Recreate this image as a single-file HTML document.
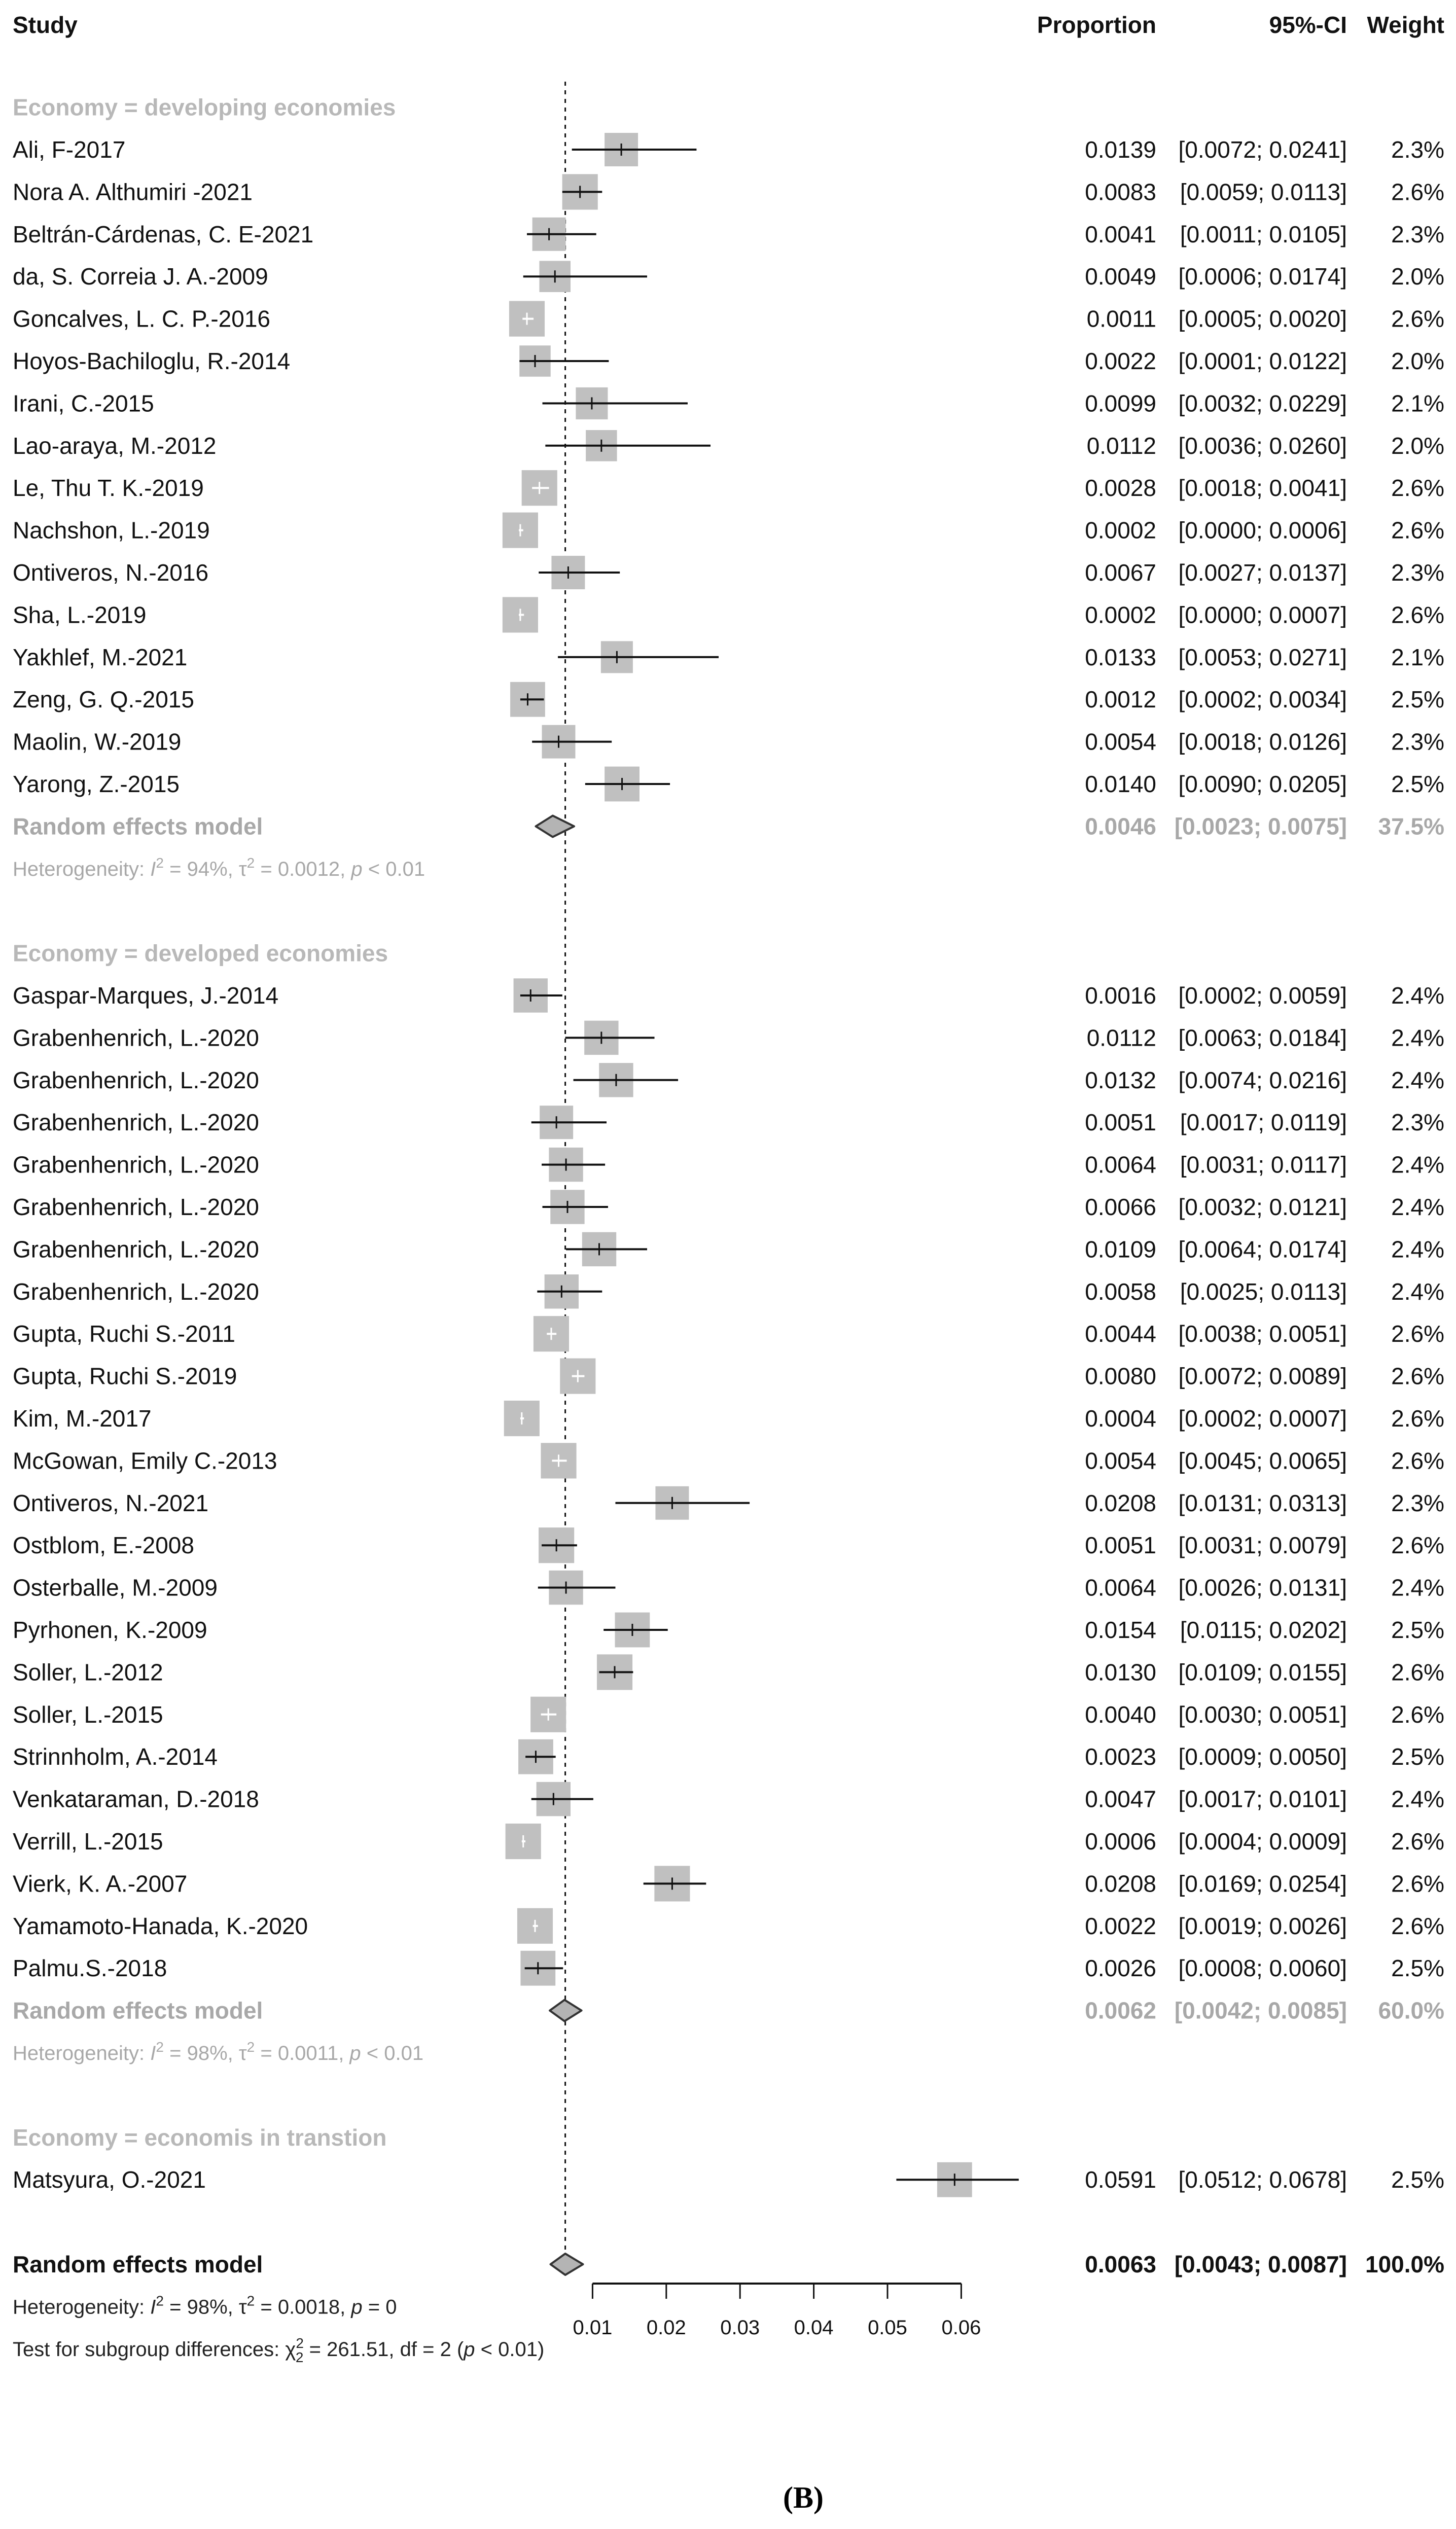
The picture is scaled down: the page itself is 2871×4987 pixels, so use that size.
<!DOCTYPE html>
<html><head><meta charset="utf-8"><style>
html,body{margin:0;padding:0;background:#fff;}
svg{display:block;}
text{font-family:"Liberation Sans",Arial,sans-serif;}
</style></head><body>
<svg id="chart" width="2871" height="4987" viewBox="0 0 2871 4987" xmlns="http://www.w3.org/2000/svg"></svg>
<script>
// ---- data ----
const studies1 = ["Ali, F-2017","Nora A. Althumiri -2021","Beltrán-Cárdenas, C. E-2021","da, S. Correia J. A.-2009","Goncalves, L. C. P.-2016","Hoyos-Bachiloglu, R.-2014","Irani, C.-2015","Lao-araya, M.-2012","Le, Thu T. K.-2019","Nachshon, L.-2019","Ontiveros, N.-2016","Sha, L.-2019","Yakhlef, M.-2021","Zeng, G. Q.-2015","Maolin, W.-2019","Yarong, Z.-2015"];
const est1 = [0.0139,0.0083,0.0041,0.0049,0.0011,0.0022,0.0099,0.0112,0.0028,0.0002,0.0067,0.0002,0.0133,0.0012,0.0054,0.0140];
const lo1 = [0.0072,0.0059,0.0011,0.0006,0.0005,0.0001,0.0032,0.0036,0.0018,0.0000,0.0027,0.0000,0.0053,0.0002,0.0018,0.0090];
const hi1 = [0.0241,0.0113,0.0105,0.0174,0.0020,0.0122,0.0229,0.0260,0.0041,0.0006,0.0137,0.0007,0.0271,0.0034,0.0126,0.0205];
const w1 = [2.3,2.6,2.3,2.0,2.6,2.0,2.1,2.0,2.6,2.6,2.3,2.6,2.1,2.5,2.3,2.5];
const studies2 = ["Gaspar-Marques, J.-2014","Grabenhenrich, L.-2020","Grabenhenrich, L.-2020","Grabenhenrich, L.-2020","Grabenhenrich, L.-2020","Grabenhenrich, L.-2020","Grabenhenrich, L.-2020","Grabenhenrich, L.-2020","Gupta, Ruchi S.-2011","Gupta, Ruchi S.-2019","Kim, M.-2017","McGowan, Emily C.-2013","Ontiveros, N.-2021","Ostblom, E.-2008","Osterballe, M.-2009","Pyrhonen, K.-2009","Soller, L.-2012","Soller, L.-2015","Strinnholm, A.-2014","Venkataraman, D.-2018","Verrill, L.-2015","Vierk, K. A.-2007","Yamamoto-Hanada, K.-2020","Palmu.S.-2018"];
const est2 = [0.0016,0.0112,0.0132,0.0051,0.0064,0.0066,0.0109,0.0058,0.0044,0.0080,0.0004,0.0054,0.0208,0.0051,0.0064,0.0154,0.0130,0.0040,0.0023,0.0047,0.0006,0.0208,0.0022,0.0026];
const lo2 = [0.0002,0.0063,0.0074,0.0017,0.0031,0.0032,0.0064,0.0025,0.0038,0.0072,0.0002,0.0045,0.0131,0.0031,0.0026,0.0115,0.0109,0.0030,0.0009,0.0017,0.0004,0.0169,0.0019,0.0008];
const hi2 = [0.0059,0.0184,0.0216,0.0119,0.0117,0.0121,0.0174,0.0113,0.0051,0.0089,0.0007,0.0065,0.0313,0.0079,0.0131,0.0202,0.0155,0.0051,0.0050,0.0101,0.0009,0.0254,0.0026,0.0060];
const w2 = [2.4,2.4,2.4,2.3,2.4,2.4,2.4,2.4,2.6,2.6,2.6,2.6,2.3,2.6,2.4,2.5,2.6,2.6,2.5,2.4,2.6,2.6,2.6,2.5];
const studies3 = ["Matsyura, O.-2021"];
const est3 = [0.0591];
const lo3 = [0.0512];
const hi3 = [0.0678];
const w3 = [2.5];
const summaryEst = [0.0046,0.0062,0.0063];
const summaryLo = [0.0023,0.0042,0.0043];
const summaryHi = [0.0075,0.0085,0.0087];
const summaryW = ["37.5%","60.0%","100.0%"];
const tickVals = [0.01,0.02,0.03,0.04,0.05,0.06];
const tickLabels = ["0.01","0.02","0.03","0.04","0.05","0.06"];

// ---- scales ----
const X0 = 1023, XPER = 14540;
function xs(v){ return X0 + v*XPER; }
const ROW0 = 295, STEP = 83.4;
function ys(r){ return ROW0 + r*STEP; }

const svg = document.getElementById('chart');
const NS = "http://www.w3.org/2000/svg";
function mk(tag, attrs, parent){
  const e = document.createElementNS(NS, tag);
  for (const k in attrs) e.setAttribute(k, attrs[k]);
  (parent||svg).appendChild(e);
  return e;
}
function txt(s, x, y, size, anchor, weight, fill){
  const t = mk('text', {x:x, y:y, 'font-size':size, 'text-anchor':anchor||'start', 'font-weight':weight||'normal', fill:fill||'#111'});
  t.textContent = s;
  return t;
}
const BASE = 16;
const COLP = 2280, COLCI = 2656, COLW = 2848;

let h = txt("Study", 25, 49+BASE, 46, 'start', 'bold');
 
h = txt("Proportion", COLP, 49+BASE, 46, 'end', 'bold');
 
h = txt("95%-CI", COLCI, 49+BASE, 46, 'end', 'bold');
 
h = txt("Weight", COLW, 49+BASE, 46, 'end', 'bold');
 

const ref = mk('line', {x1:xs(summaryEst[2]), x2:xs(summaryEst[2]), y1:161, y2:ys(50)-22, stroke:'#111', 'stroke-width':3, 'stroke-dasharray':'8 9'});



function drawStudy(name, e, l, hi, w, row){
  const y = ys(row);
  const g = mk('g', {});
  
  
  const lab = txt(name, 25, y+BASE, 46, 'start', 'normal', '#111');
  g.appendChild(lab);
  
  
  const side = 43.5*Math.sqrt(w);
  const sq = mk('rect', {x:xs(e)-side/2, y:y-side/2, width:side, height:side, fill:'#c0c0c0'}, g);
  
  
  const inside = (xs(hi)-xs(l)) < side*0.6;
  const col = inside ? '#ffffff' : '#111';
  const ci = mk('line', {x1:xs(l), x2:xs(hi), y1:y, y2:y, stroke:col, 'stroke-width':4}, g);
  
  
  const tk = mk('line', {x1:xs(e), x2:xs(e), y1:y-12, y2:y+12, stroke:col, 'stroke-width':3}, g);
  
  
  const t1 = txt(e.toFixed(4), COLP, y+BASE, 46, 'end'); g.appendChild(t1);
  const t2 = txt("["+l.toFixed(4)+"; "+hi.toFixed(4)+"]", COLCI, y+BASE, 46, 'end'); g.appendChild(t2);
  const t3 = txt(w.toFixed(1)+"%", COLW, y+BASE, 46, 'end'); g.appendChild(t3);
}
function drawSummary(i, row, color, label){
  const y = ys(row);
  const lab = txt(label, 25, y+BASE, 46, 'start', 'bold', color);
  
  
  const a = xs(summaryLo[i]), b = xs(summaryHi[i]), c = xs(summaryEst[i]);
  const d = mk('polygon', {points:`${a},${y} ${c},${y-21} ${b},${y} ${c},${y+21}`, fill:'#b4b4b4', stroke:'#333', 'stroke-width':4, 'stroke-linejoin':'round'});
  
  
  txt(summaryEst[i].toFixed(4), COLP, y+BASE, 46, 'end', 'bold', color);
  txt("["+summaryLo[i].toFixed(4)+"; "+summaryHi[i].toFixed(4)+"]", COLCI, y+BASE, 46, 'end', 'bold', color);
  txt(summaryW[i], COLW, y+BASE, 46, 'end', 'bold', color);
}
function het(row, I2, tau, p, color){
  const y = ys(row)+14;
  const t = mk('text', {x:25, y:y, 'font-size':40, fill:color});
  
  
  t.innerHTML = `Heterogeneity: <tspan font-style="italic">I</tspan><tspan dy="-16" font-size="28">2</tspan><tspan dy="16"> = ${I2}, τ</tspan><tspan dy="-16" font-size="28">2</tspan><tspan dy="16"> = ${tau}, </tspan><tspan font-style="italic">p</tspan> ${p}`;
}
function groupHead(s, row){
  const t = txt(s, 25, ys(row)+BASE, 46, 'start', 'bold', '#b8b8b8');
  
  
}

groupHead("Economy = developing economies", -1);
studies1.forEach((s,i)=>drawStudy(s, est1[i], lo1[i], hi1[i], w1[i], i));
drawSummary(0, 16, '#a8a8a8', "Random effects model");
het(17, "94%", "0.0012", "&lt; 0.01", '#a8a8a8');

groupHead("Economy = developed economies", 19);
studies2.forEach((s,i)=>drawStudy(s, est2[i], lo2[i], hi2[i], w2[i], 20+i));
drawSummary(1, 44, '#a8a8a8', "Random effects model");
het(45, "98%", "0.0011", "&lt; 0.01", '#a8a8a8');

groupHead("Economy = economis in transtion", 47);
studies3.forEach((s,i)=>drawStudy(s, est3[i], lo3[i], hi3[i], w3[i], 48+i));

drawSummary(2, 50, '#111', "Random effects model");
het(51, "98%", "0.0018", "= 0", '#222');
const ts = mk('text', {x:25, y:ys(52)+14, 'font-size':40, fill:'#222'});


ts.innerHTML = 'Test for subgroup differences: χ<tspan dy="-16" font-size="28">2</tspan><tspan dx="-16" dy="28" font-size="28">2</tspan><tspan dy="-12"> = 261.51, df = 2 (</tspan><tspan font-style="italic">p</tspan> &lt; 0.01)';

const AY = 4503;
const ax = mk('line', {x1:xs(tickVals[0]), x2:xs(tickVals[tickVals.length-1]), y1:AY, y2:AY, stroke:'#111', 'stroke-width':4});


tickVals.forEach((v,i)=>{
  const tl = mk('line', {x1:xs(v), x2:xs(v), y1:AY, y2:AY+30, stroke:'#111', 'stroke-width':3});
  
  
  const lb = txt(tickLabels[i], xs(v), 4589+14, 40, 'middle', 'normal', '#111');
  
  
});

const cap = mk('text', {x:1584, y:4945, 'font-size':60, 'text-anchor':'middle', 'font-weight':'bold', fill:'#000', style:'font-family:"Liberation Serif",serif'});
cap.textContent = "(B)";


</script>
</body></html>
